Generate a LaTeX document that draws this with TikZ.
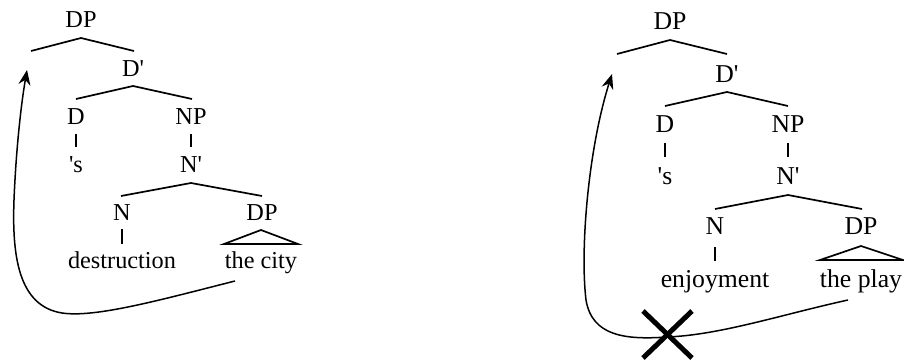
\documentclass[tikz,border=0pt]{standalone}
\usepackage{fontspec}
\setmainfont{Liberation Serif}
\usetikzlibrary{arrows.meta}
\begin{document}
\begin{tikzpicture}[x=1pt,y=-1pt,
  lbl/.style={anchor=base,inner sep=0pt,font=\fontsize{24.3}{28}\selectfont},
  lblr/.style={anchor=base,inner sep=0pt,font=\fontsize{25.7}{30}\selectfont},
  branch/.style={line width=1.7pt},
  move/.style={line width=1.5pt,-{Stealth[length=15pt,width=12pt,inset=5pt]}},
  cross/.style={line width=5pt}]
\useasboundingbox (0,0) rectangle (904,363);
% ---------- left tree ----------
\node[lbl] (lDP) at (81,28) {DP};
\coordinate (lDPa) at (81,38); \coordinate (lDPl) at (31,51); \coordinate (lDPr) at (134,51);
\draw[branch] (lDPl) -- (lDPa) -- (lDPr);
\node[lbl] (lDb) at (133,77) {D\textquotesingle};
\coordinate (lDba) at (133,86); \coordinate (lDbl) at (76,99); \coordinate (lDbr) at (192,99);
\draw[branch] (lDbl) -- (lDba) -- (lDbr);
\node[lbl] (lD) at (76,125) {D};
\node[lbl] (lNP) at (191,125) {NP};
\coordinate (lDv1) at (76,134); \coordinate (lDv2) at (76,147);
\coordinate (lNv1) at (191,134); \coordinate (lNv2) at (191,147);
\draw[branch] (lDv1) -- (lDv2);
\draw[branch] (lNv1) -- (lNv2);
\node[lbl] (ls) at (76,173) {\textquotesingle s};
\node[lbl] (lNb) at (191,173) {N\textquotesingle};
\coordinate (lNba) at (191,183); \coordinate (lNbl) at (121,196); \coordinate (lNbr) at (262,196);
\draw[branch] (lNbl) -- (lNba) -- (lNbr);
\node[lbl] (lN) at (122,221) {N};
\node[lbl] (lDP2) at (262,221) {DP};
\coordinate (lNnv1) at (122,229); \coordinate (lNnv2) at (122,244);
\draw[branch] (lNnv1) -- (lNnv2);
\coordinate (lTa) at (261,230); \coordinate (lTl) at (224,244); \coordinate (lTr) at (298,244);
\draw[branch] (lTl) -- (lTa) -- (lTr) -- cycle;
\node[lbl] (ldes) at (122,269) {destruction};
\node[lbl] (lcity) at (261,269) {the city};
\coordinate (lst) at (235,281);
\coordinate (ltip) at (27,70);
\draw[move] (lst) .. controls (160,300) and (95,318) .. (62,313)
  .. controls (18,306) and (12,255) .. (14,200)
  .. controls (16,150) and (21,105) .. (ltip);
% ---------- right tree ----------
\node[lblr] (rDP) at (670,30) {DP};
\coordinate (rDPa) at (670,40); \coordinate (rDPl) at (617,54); \coordinate (rDPr) at (727,54);
\draw[branch] (rDPl) -- (rDPa) -- (rDPr);
\node[lblr] (rDb) at (727,83) {D\textquotesingle};
\coordinate (rDba) at (727,92); \coordinate (rDbl) at (665,106); \coordinate (rDbr) at (788,106);
\draw[branch] (rDbl) -- (rDba) -- (rDbr);
\node[lblr] (rD) at (665,133) {D};
\node[lblr] (rNP) at (788,133) {NP};
\coordinate (rDv1) at (665,143); \coordinate (rDv2) at (665,157);
\coordinate (rNv1) at (788,143); \coordinate (rNv2) at (788,157);
\draw[branch] (rDv1) -- (rDv2);
\draw[branch] (rNv1) -- (rNv2);
\node[lblr] (rs) at (665,185) {\textquotesingle s};
\node[lblr] (rNb) at (788,185) {N\textquotesingle};
\coordinate (rNba) at (788,195); \coordinate (rNbl) at (715,209); \coordinate (rNbr) at (862,209);
\draw[branch] (rNbl) -- (rNba) -- (rNbr);
\node[lblr] (rN) at (715,235) {N};
\node[lblr] (rDP2) at (861,235) {DP};
\coordinate (rNnv1) at (715,247); \coordinate (rNnv2) at (715,261);
\draw[branch] (rNnv1) -- (rNnv2);
\coordinate (rTa) at (861,246); \coordinate (rTl) at (820,260); \coordinate (rTr) at (903,260);
\draw[branch] (rTl) -- (rTa) -- (rTr) -- cycle;
\node[lblr] (renj) at (715,287) {enjoyment};
\node[lblr] (rplay) at (861,287) {the play};
\coordinate (rst) at (848,300);
\coordinate (rx) at (667,337);
\coordinate (rtip) at (612,74);
\draw[move] (rst) .. controls (780,315) and (720,335) .. (rx)
  .. controls (625,340) and (592,336) .. (586,300)
  .. controls (580,250) and (588,150) .. (rtip);
\coordinate (x1) at (643,311); \coordinate (x2) at (692,358);
\coordinate (x3) at (692,311); \coordinate (x4) at (643,358);
\draw[cross] (x1) -- (x2);
\draw[cross] (x3) -- (x4);
\end{tikzpicture}
\end{document}
